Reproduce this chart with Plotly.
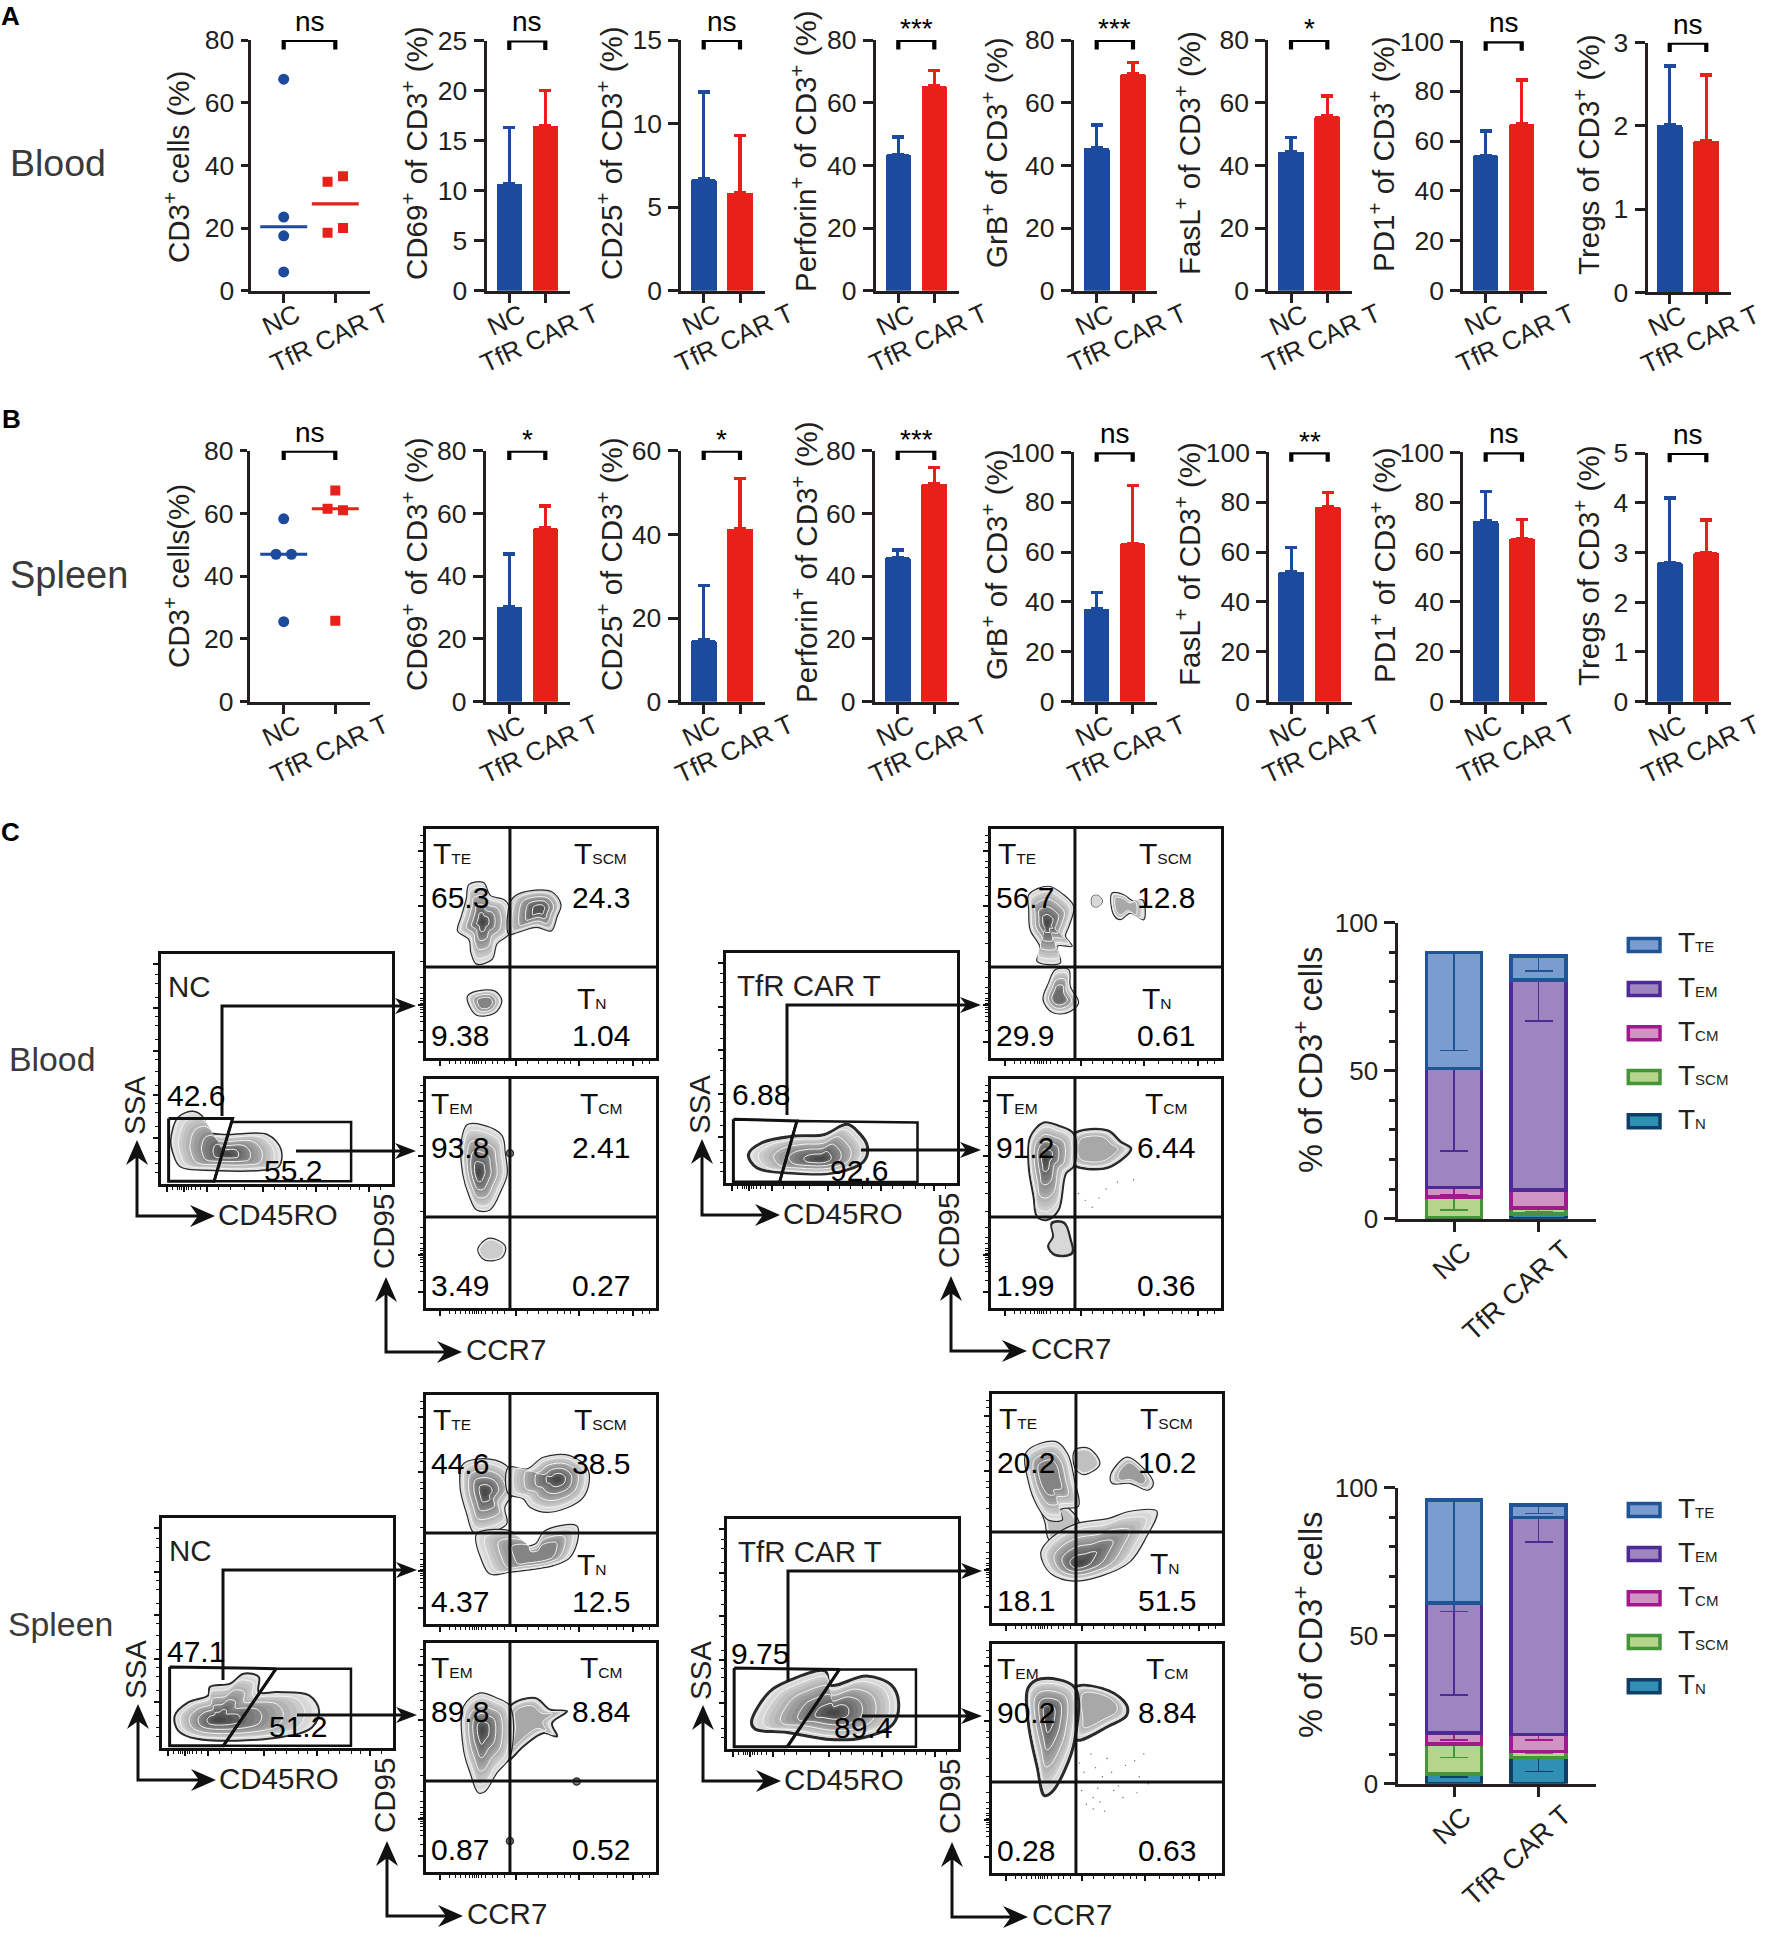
import plotly.graph_objects as go

W, H = 1765, 1938
FONT = "Liberation Sans"
INK = "#231f20"
BLUE = "#1c4a9c"
RED = "#e8201a"

CATEGORIES = ["NC", "TfR CAR T"]
SIG_A = ["ns", "ns", "ns", "***", "***", "*", "ns", "ns"]
SIG_B = ["ns", "*", "*", "***", "ns", "**", "ns", "ns"]
TITLES_A = ["CD3<sup>+</sup> cells (%)", "CD69<sup>+</sup> of CD3<sup>+</sup> (%)", "CD25<sup>+</sup> of CD3<sup>+</sup> (%)",
            "Perforin<sup>+</sup> of CD3<sup>+</sup> (%)", "GrB<sup>+</sup> of CD3<sup>+</sup> (%)",
            "FasL<sup>+</sup> of CD3<sup>+</sup> (%)", "PD1<sup>+</sup> of CD3<sup>+</sup> (%)", "Tregs of CD3<sup>+</sup> (%)"]
TITLES_B = ["CD3<sup>+</sup> cells(%)"] + TITLES_A[1:]
YMAX_A = [80, 25, 15, 80, 80, 80, 100, 3]
YMAX_B = [80, 80, 60, 80, 100, 100, 100, 5]
DTICK_A = [20, 5, 5, 20, 20, 20, 20, 1]
DTICK_B = [20, 20, 20, 20, 20, 20, 20, 1]

# CD3 scatter panels
A_NC_DOTS = [67.5, 23.5, 17.5, 6.0]
A_NC_DOTS_X = [0, 0, 0, 0]
A_NC_MEAN = 20.4
A_TFR_DOTS = [36.5, 34.8, 20.0, 18.5]
A_TFR_DOTS_X = [1.15, 0.85, 1.15, 0.85]
A_TFR_MEAN = 27.7
B_NC_DOTS = [58.3, 47.0, 47.0, 25.5]
B_NC_DOTS_X = [0, -0.15, 0.15, 0]
B_NC_MEAN = 47.0
B_TFR_DOTS = [67.3, 61.5, 61.0, 25.8]
B_TFR_DOTS_X = [1, 0.85, 1.15, 1]
B_TFR_MEAN = 61.5

# Bar panels 2..8
A_NC = [10.7, 6.67, 43.5, 45.6, 44.4, 54.3, 2.01]
A_NC_TOP = [16.33, 11.9, 49.1, 52.9, 48.9, 64.0, 2.72]
A_TFR = [16.47, 5.87, 65.3, 69.1, 55.7, 66.8, 1.82]
A_TFR_TOP = [20.0, 9.28, 70.2, 72.8, 62.2, 84.5, 2.61]
B_NC = [30.3, 14.7, 46.0, 37.2, 52.1, 72.5, 2.8]
B_NC_TOP = [47.0, 27.8, 48.4, 43.7, 61.8, 84.2, 4.1]
B_TFR = [55.3, 41.4, 69.4, 63.5, 78.2, 65.5, 3.0]
B_TFR_TOP = [62.4, 53.4, 74.6, 86.7, 83.8, 73.1, 3.65]

# Stacked panels, bottom to top
SUBSETS = ["N", "SCM", "CM", "EM", "TE"]
BLOOD_NC = [0.4, 7.0, 3.2, 40.2, 39.1]
BLOOD_NC_ERR = [0.2, 4.5, 2.4, 27.9, 33.0]
BLOOD_TFR = [1.6, 2.1, 6.0, 70.9, 8.1]
BLOOD_TFR_ERR = [0.5, 1.3, 0.0, 13.8, 5.0]
SPLEEN_NC = [3.3, 10.1, 3.8, 43.8, 34.8]
SPLEEN_NC_ERR = [1.0, 4.6, 2.5, 31.0, 37.6]
SPLEEN_TFR = [8.8, 2.1, 5.8, 73.3, 4.1]
SPLEEN_TFR_ERR = [4.6, 0.5, 2.0, 8.4, 2.9]
SUBSET_BORDER = ["#0f3f66", "#46943a", "#a2188f", "#4d2a95", "#1f5496"]
SUBSET_FILL = ["#2f8fb5", "#b5d68a", "#cf94c4", "#9d85bf", "#7a9ccf"]
LEGEND_ORDER = ["TE", "EM", "CM", "SCM", "N"]

# Layout in reference pixels
AX_X_A = [250.7, 486.7, 681.3, 876, 1074, 1268.3, 1463.3, 1647.7]
END_A = [370, 570, 765, 959.3, 1157.3, 1351.7, 1546.7, 1731]
T0_A = [283.7, 509.3, 703.7, 898.3, 1096.7, 1291, 1485.7, 1669.7]
T1_A = [335.3, 545.3, 740, 934.3, 1133, 1327.3, 1521.7, 1706.3]
TOP_A = [40, 40.5, 40, 40, 40, 40, 41.3, 42.7]
BOT_A = [290.7, 290.7, 290.7, 290.7, 290.7, 290.7, 290.7, 292.3]
AX_X_B = [250, 486, 680.7, 875, 1074, 1269.3, 1463.3, 1647.7]
END_B = [370, 570, 765, 959, 1157, 1352.3, 1546.7, 1731]
T0_B = [283.7, 509.3, 703.7, 897.7, 1096.7, 1291.3, 1485.7, 1669.7]
T1_B = [335.3, 545.3, 740, 934.3, 1132.7, 1327.7, 1522, 1706.3]
TOP_B = [450.7, 450.7, 450.7, 450.7, 452.3, 452.3, 452.3, 453]
BOT_B = [701.7] * 8
LABX = [176, 414, 609, 804, 994, 1187, 1382, 1587]
LABY_A = [167, 153, 153, 151, 153, 153, 154, 155]
LABY_B = [576, 564, 564, 562, 565, 564, 565, 566]

# Flow plot outlines, percent of each panel
BN_G = [(7.4,29),(14,31.6),(18.6,28.5),(19.8,23),(28,21.5),(46,21.5),(52,15),(51,7.5),(43,5.9),(23,5.9),(8.3,7.5),(5,13.9),(4.2,19)]
BN_T1 = [(18.7,75.8),(25,76.6),(28,71),(34.5,68.8),(37,63),(36,54),(31,50),(28.7,43),(22,41),(19.5,46),(18.7,51.6),(13.7,55.5),(15.3,61.7),(17.5,69.5)]
BN_T2 = [(37,68.8),(41,72),(54.5,72.7),(58.7,67),(57,61.7),(54.5,55.5),(48,57),(39.5,54.7),(36,54)]
BN_T3 = [(18,27),(22,29.2),(30,29.2),(33,25),(29.7,19.5),(22,18.7),(18.7,23)]
BN_B1 = [(17.8,80),(24.5,80),(33,75.4),(34.5,67.6),(35.3,58.3),(33,52),(27.8,42.8),(22,42.8),(18.7,49),(16,58.3),(15.3,72.3)]
BN_B2 = [(22.5,25.6),(27.5,30.5),(34.5,27),(33,22),(25.5,21)]
BT_G = [(9.7,12.4),(15.5,17.5),(29.3,20.4),(42.3,21),(52.5,25.5),(57.5,21.9),(61.2,16),(59.7,9.5),(46.7,4.4),(27.8,4.4),(13.3,6.6)]
BT_T1 = [(16.4,71.3),(25,75),(31.6,71.3),(36,66.2),(33.9,57.5),(32.4,53.2),(35.3,48.8),(28.8,48.8),(30.2,41.5),(20,42.2),(21.4,48),(17,56),(16.4,64.8)]
BT_T2 = [(28,38.6),(33.8,38.6),(34.5,31.3),(38.1,24),(33,19.7),(26.5,20),(22.6,25.5),(25,32.8)]
BT_T3 = [(52.6,72),(57.7,71.3),(62,68.4),(66,69),(66.4,60.4),(60.6,63.3),(56.2,60.4),(53.3,62.6)]
BT_T4 = [(44,70.5),(46.5,71),(48.5,68.5),(46.5,66),(44,66.5)]
BT_B1 = [(17,74.6),(22.9,81),(29.4,79.6),(36,76),(36,62),(32.6,58.7),(29.4,42.8),(24.3,38.4),(20,39.9),(18.5,48.6),(16.4,61.6)]
BT_B2 = [(36,76),(50.7,77.5),(56.5,72.5),(60.9,69.6),(56.5,64.5),(49.3,60.9),(36,62.4),(34,68)]
BT_B3 = [(26.5,37),(31.6,37.2),(34.5,29.7),(35.2,24),(28,23.2),(25,26.8),(27.2,31.2)]
SN_G = [(5.5,14),(11.3,19.8),(20,22.9),(20.7,26.5),(29.5,28),(35.3,32.3),(41.9,30.9),(41.9,24.3),(49.9,24.3),(63.7,22.9),(68,16.3),(65,9),(51.3,4.7),(15,4),(7,7.6)]
SN_T1 = [(16.2,69.9),(27.8,72),(35.8,68.4),(39.4,59.7),(34.3,51),(35.1,43.7),(24.9,39.3),(20.6,40),(17.7,48),(14.8,59.7)]
SN_T2 = [(35.8,68.4),(43.8,67.7),(51,72.8),(62.6,73.5),(70.6,67),(68.4,55.3),(53.9,48.8),(45.2,51),(42.3,54.6),(35.8,56.9)]
SN_T3 = [(22,39.3),(38,40),(40.1,34.2),(47.4,34.9),(51.7,40.7),(65.5,42.9),(66.2,37.8),(62.6,29),(55.4,25.5),(36.5,22.6),(27.8,21.8),(24.2,27.7)]
SN_B1 = [(16.3,72.3),(23.5,78.2),(30.8,76),(36.6,72.3),(36.6,50.5),(30.8,43.2),(25.7,35.2),(22.8,34.5),(19.2,43.2),(16.3,53.4)]
SN_B2 = [(36.6,72.3),(47.5,76),(54,70.9),(61.3,70.2),(54.8,65),(57,59.2),(51.2,60.7),(42.4,54.9),(35.2,48.3),(36.6,60.7)]
ST_G = [(10.6,11.8),(18.3,24.8),(26.1,29.4),(42.5,33.9),(44.8,27.8),(60.3,31.7),(71.2,27.8),(74.3,20.2),(72,11),(58.8,4.9),(44.8,4.1),(26.1,7.2),(12.1,8.7)]
ST_T1 = [(15,74.7),(27.5,79.3),(32.9,73.9),(36,61.7),(37.6,51),(29.8,49.5),(30.6,45),(24.4,45),(19.7,51),(15.8,61.7)]
ST_T2 = [(36,75.5),(42.2,76.2),(46.9,69.4),(39.9,64.8),(36,67.8)]
ST_T3 = [(51.6,64.8),(58.6,72.4),(64.8,68.6),(70.2,61),(67.9,58),(60,61),(52.2,61)]
ST_T4 = [(21.3,31.3),(25.9,37.3),(36.8,43.4),(50.8,45.7),(60,48.8),(71.7,48.8),(67,37.3),(60,26.7),(47.7,20.6),(35.2,18.3),(25.9,21.3),(22,26.7)]
ST_T5 = [(21,52),(30,52),(37,46),(38,40),(30,36),(25,36),(23,44)]
ST_B1 = [(15.8,81),(21.3,84.8),(36,81),(36,58.2),(31.4,44.4),(26,35.3),(22.8,33.8),(19.7,46),(15.8,65.8)]
ST_B2 = [(36,81),(50.8,79.5),(58.5,73.4),(58.5,68.8),(50.8,64.2),(36.8,58.1),(36,64.2)]
ST_DOTS_X = [38,40,42,45,48,50,52,55,58,62,64,66,68,46,44,39,41,44,47,49,37,43,53,57,63]
ST_DOTS_Y = [48,44,40,46,42,50,44,38,47,49,42,52,39,37,33,36,30,28,31,27,41,52,36,33,35]
GB_DOTS_X = [38,41,44,47,55,62,50,46]
GB_DOTS_Y = [50,47,44,48,55,56,52,40]

FLOW_X_MAJOR = [6, 39, 66.7, 90]
FLOW_X_MINOR = [10, 13, 15, 17, 19, 20, 21, 22, 23, 24, 26, 29, 31, 34, 44, 49, 53, 57, 60, 63, 73, 79, 83, 86, 94, 97]
FLOW_Y_MAJOR = [7, 23, 66.5, 90.6]
FLOW_Y_MINOR = [12, 16, 18, 20, 21, 22, 24, 25, 26, 28, 31, 35, 42, 50, 55, 59, 62, 71, 75, 79, 83, 86, 94, 97]
GATE_X_MAJOR = [2.5, 10, 20, 44, 67, 90]
GATE_X_MINOR = [5, 7, 8, 9, 11, 12, 13, 15, 17, 25, 30, 36, 49, 54, 59, 63, 72, 77, 82, 86, 95]
GATE_Y_MAJOR = [19.9, 38.8, 58, 76.5, 95.5]
GATE_Y_MINOR = [5, 9, 14, 25, 31, 35, 43, 49, 54, 63, 69, 73, 81, 87, 91]

fig_traces, annots, shapes, layout_axes = [], [], [], {}
axis_count = [0]


def fx(x):
    return x / W


def fy(y):
    return 1 - y / H


def add_axes(x0, x1, ytop, ybot, xr, yr, xopts, yopts):
    axis_count[0] += 1
    n = axis_count[0]
    suffix = "" if n == 1 else str(n)
    xa = dict(domain=[fx(x0), fx(x1)], range=xr, anchor="y" + suffix, showgrid=False, zeroline=False,
              showticklabels=False, fixedrange=True)
    ya = dict(domain=[fy(ybot), fy(ytop)], range=yr, anchor="x" + suffix, showgrid=False, zeroline=False,
              fixedrange=True)
    xa.update(xopts)
    ya.update(yopts)
    layout_axes["xaxis" + suffix] = xa
    layout_axes["yaxis" + suffix] = ya
    return "x" + suffix, "y" + suffix


def text(x, y, s, size, xref="paper", yref="paper", color=INK, angle=0, xanchor="center", yanchor="middle", weight=None):
    font = dict(family=FONT, size=size, color=color)
    if weight:
        font["weight"] = weight
    annots.append(dict(x=x, y=y, xref=xref, yref=yref, text=s, showarrow=False, font=font, textangle=angle,
                       xanchor=xanchor, yanchor=yanchor, borderpad=0, borderwidth=0))


def ptext(x, y, s, size, **kw):
    text(fx(x), fy(y), s, size, **kw)


def stat_panel(i, sig, title, labx, laby, ax, end, t0, t1, top, bot, ymax, dtick):
    d = t1 - t0
    xr = [(ax - t0) / d, (end - t0) / d]
    line = dict(showline=True, linecolor=INK, linewidth=3.2, ticks="outside", tickwidth=3.2, tickcolor=INK)
    xa, ya = add_axes(ax, end, top, bot, xr, [0, ymax],
                      dict(tickvals=[0, 1], ticklen=9, **line),
                      dict(tickmode="linear", tick0=0, dtick=dtick, ticklen=7 if i == 0 else 10, ticklabelstandoff=1,
                           showticklabels=True, tickfont=dict(family=FONT, size=26.5, color=INK), **line))
    b = ymax * 0.0375
    fig_traces.append(go.Scatter(x=[0, 0, 1, 1], y=[ymax - b, ymax, ymax, ymax - b], xaxis=xa, yaxis=ya, mode="lines",
                                 line=dict(color="#000000", width=4.2), cliponaxis=False, showlegend=False,
                                 hoverinfo="skip"))
    offset = 18.5 if sig == "ns" else 11
    text(0.5, fy(top - offset), sig, 28, xref=xa, color="#000000")
    text(fx(labx), fy(laby), title, 29.5, angle=-90)
    for k, cat in enumerate(CATEGORIES):
        dx, dy = (-3, 29) if k == 0 else (-6, 47)
        tk = t0 if k == 0 else t1
        text(fx(tk + dx), fy(bot + dy), cat, 26, angle=-25)
    return xa, ya


def dots(xa, ya, xs, ys, mean, cx, color, symbol, size):
    fig_traces.append(go.Scatter(x=xs, y=ys, xaxis=xa, yaxis=ya, mode="markers",
                                 marker=dict(color=color, size=size, symbol=symbol), showlegend=False))
    fig_traces.append(go.Scatter(x=[cx - 0.455, cx + 0.455], y=[mean, mean], xaxis=xa, yaxis=ya, mode="lines",
                                 line=dict(color=color, width=3.2), showlegend=False))


def bars(xa, ya, x, val, top, color, name):
    fig_traces.append(go.Bar(x=[x], y=[val], xaxis=xa, yaxis=ya, width=0.71, name=name, showlegend=False,
                             marker=dict(color=color, line=dict(width=0), cornerradius=2),
                             error_y=dict(type="data", symmetric=False, array=[top - val], arrayminus=[0],
                                          color=color, thickness=3.5, width=6)))


def row(sigs, titles, laby, axx, ends, t0s, t1s, tops, bots, ymaxs, dticks, ncs, nct, tfs, tft, d_nc, d_ncx, m_nc, d_tf, d_tfx, m_tf):
    for i in range(8):
        xa, ya = stat_panel(i, sigs[i], titles[i], LABX[i], laby[i], axx[i], ends[i], t0s[i], t1s[i], tops[i], bots[i],
                            ymaxs[i], dticks[i])
        if i == 0:
            dots(xa, ya, d_ncx, d_nc, m_nc, 0, BLUE, "circle", 11)
            dots(xa, ya, d_tfx, d_tf, m_tf, 1, RED, "square", 10)
        else:
            bars(xa, ya, 0, ncs[i - 1], nct[i - 1], BLUE, CATEGORIES[0])
            bars(xa, ya, 1, tfs[i - 1], tft[i - 1], RED, CATEGORIES[1])


row(SIG_A, TITLES_A, LABY_A, AX_X_A, END_A, T0_A, T1_A, TOP_A, BOT_A, YMAX_A, DTICK_A, A_NC, A_NC_TOP, A_TFR, A_TFR_TOP,
    A_NC_DOTS, A_NC_DOTS_X, A_NC_MEAN, A_TFR_DOTS, A_TFR_DOTS_X, A_TFR_MEAN)
row(SIG_B, TITLES_B, LABY_B, AX_X_B, END_B, T0_B, T1_B, TOP_B, BOT_B, YMAX_B, DTICK_B, B_NC, B_NC_TOP, B_TFR, B_TFR_TOP,
    B_NC_DOTS, B_NC_DOTS_X, B_NC_MEAN, B_TFR_DOTS, B_TFR_DOTS_X, B_TFR_MEAN)

ptext(10, 16, "A", 26, color="#000000", weight="bold")
ptext(11, 419, "B", 26, color="#000000", weight="bold")
ptext(10, 832, "C", 26, color="#000000", weight="bold")
ptext(58, 163, "Blood", 37.5, color="#3a3a3a")
ptext(69, 575, "Spleen", 38, color="#3a3a3a")
ptext(52, 1059, "Blood", 33.8, color="#3a3a3a")
ptext(61, 1624, "Spleen", 33.8, color="#3a3a3a")

# Stacked panels
STACK_AX, STACK_END, STACK_T0, STACK_T1 = 1398.3, 1596, 1454, 1538.7
SW_X0, SW_X1 = 1628.3, 1660
SW_Y = [945, 989, 1033.3, 1077, 1121.3]


def stacked(dy, nc, nc_err, tf, tf_err):
    top, bot = 922.7 + dy, 1218.7 + dy
    d = STACK_T1 - STACK_T0
    line = dict(showline=True, linecolor=INK, linewidth=3, ticks="outside", tickwidth=3, tickcolor=INK)
    xa, ya = add_axes(STACK_AX, STACK_END, top, bot, [(STACK_AX - STACK_T0) / d, (STACK_END - STACK_T0) / d], [0, 100],
                      dict(tickvals=[0, 1], ticklen=10, **line),
                      dict(tickvals=[0, 50, 100], ticklen=11, ticklabelstandoff=1, showticklabels=True,
                           tickfont=dict(family=FONT, size=26, color=INK),
                           minor=dict(dtick=10, tick0=0, ticks="outside", ticklen=6, tickwidth=2.5, tickcolor=INK), **line))
    for k, sub in enumerate(SUBSETS):
        fig_traces.append(go.Bar(x=[0, 1], y=[nc[k], tf[k]], xaxis=xa, yaxis=ya, width=0.65, name="T" + sub, showlegend=False,
                                 marker=dict(color=SUBSET_FILL[k], line=dict(color=SUBSET_BORDER[k], width=3.5)),
                                 error_y=dict(type="data", symmetric=False, array=[0, 0], arrayminus=[nc_err[k], tf_err[k]],
                                              color=SUBSET_BORDER[k], thickness=1.5, width=14)))
    text(fx(1308), fy(1060 + dy), "% of CD3<sup>+</sup> cells", 32.5, angle=-90)
    text(fx(STACK_T0 - 2), fy(bot + 42), CATEGORIES[0], 27.5, angle=-42)
    text(fx(STACK_T1 - 22), fy(bot + 72), CATEGORIES[1], 27.5, angle=-42)
    for k, sub in enumerate(LEGEND_ORDER):
        idx = SUBSETS.index(sub)
        y = SW_Y[k] + dy
        shapes.append(dict(type="rect", xref="paper", yref="paper", x0=fx(SW_X0), x1=fx(SW_X1), y0=fy(y - 6.5), y1=fy(y + 6.5),
                           fillcolor=SUBSET_FILL[idx], line=dict(color=SUBSET_BORDER[idx], width=3.5), layer="above"))
        text(fx(1678), fy(y - 2), 'T<span style="font-size:15px">%s</span>' % sub, 28, xanchor="left")


stacked(0, BLOOD_NC, BLOOD_NC_ERR, BLOOD_TFR, BLOOD_TFR_ERR)
stacked(565, SPLEEN_NC, SPLEEN_NC_ERR, SPLEEN_TFR, SPLEEN_TFR_ERR)

# Flow panels
RING_T = [1.0, 0.93, 0.86, 0.79, 0.72, 0.65, 0.58, 0.51, 0.44, 0.37, 0.3, 0.23, 0.16, 0.09]
RING_F = ["#e4e4e4", "#d8d8d8", "#cccccc", "#c0c0c0", "#b4b4b4", "#a8a8a8", "#9c9c9c", "#909090", "#848484", "#787878",
          "#6c6c6c", "#606060", "#545454", "#484848"]
RING_LINE = [2, 5, 8, 11]


def blob(xa, ya, pts, center, rings=14, edge=1.2, start=0):
    cx, cy = center
    for k in range(rings):
        t = RING_T[k]
        xs = [cx + t * (p[0] - cx) for p in pts] + [cx + t * (pts[0][0] - cx)]
        ys = [cy + t * (p[1] - cy) for p in pts] + [cy + t * (pts[0][1] - cy)]
        if k == 0:
            ln = dict(color="#2a2a2a", width=edge, shape="spline", smoothing=1)
        elif k in RING_LINE:
            ln = dict(color="#f4f4f4", width=1, shape="spline", smoothing=1)
        else:
            ln = dict(width=0, shape="spline", smoothing=1)
        fig_traces.append(go.Scatter(x=xs, y=ys, xaxis=xa, yaxis=ya, mode="lines", fill="toself",
                                     fillcolor=RING_F[min(k + start, 13)], showlegend=False, hoverinfo="skip", line=ln))


def flow_axes(x0, x1, y0, y1, xmaj, xmin, ymaj, ymin):
    common = dict(showline=True, mirror=True, linecolor="#111111", linewidth=3, ticks="outside", ticklen=5, tickwidth=1.5,
                  tickcolor="#111111")
    return add_axes(x0, x1, y0, y1, [0, 100], [0, 100],
                    dict(tickvals=xmaj, minor=dict(tickvals=xmin, ticks="outside", ticklen=3, tickwidth=1, tickcolor="#111111"), **common),
                    dict(tickvals=ymaj, showticklabels=False,
                         minor=dict(tickvals=ymin, ticks="outside", ticklen=3, tickwidth=1, tickcolor="#111111"), **common))


def poly(xa, ya, pts, width=2.5):
    xs = [p[0] for p in pts] + [pts[0][0]]
    ys = [p[1] for p in pts] + [pts[0][1]]
    fig_traces.append(go.Scatter(x=xs, y=ys, xaxis=xa, yaxis=ya, mode="lines", line=dict(color="#111111", width=width),
                                 showlegend=False, hoverinfo="skip"))


def arrow(hx, hy, ux, uy, length=25, half=11, notch=17):
    # solid, notched arrow head with its tip at (hx, hy), pointing along (ux, uy)
    px, py = -uy, ux
    pts = [(hx, hy), (hx - ux * length + px * half, hy - uy * length + py * half), (hx - ux * notch, hy - uy * notch),
           (hx - ux * length - px * half, hy - uy * length - py * half)]
    path = "M " + " L ".join("%.6f %.6f" % (fx(x), fy(y)) for x, y in pts) + " Z"
    shapes.append(dict(type="path", xref="paper", yref="paper", path=path, fillcolor="#111111", line=dict(width=0), layer="above"))


def polyline(points, width=3):
    path = "M " + " L ".join("%.6f %.6f" % (fx(x), fy(y)) for x, y in points)
    shapes.append(dict(type="path", xref="paper", yref="paper", path=path, line=dict(color="#111111", width=width), layer="above"))


QUAD_LABELS_X = [14.6, 76]
QUAD_LABELS_Y = [70, 9.8]


def quad(x0, y0, names, nums, blobs, dots_xy=None, rings=None):
    x1 = x0 + 230
    y1 = y0 + 229
    xa, ya = flow_axes(x0, x1, y0, y1, FLOW_X_MAJOR, FLOW_X_MINOR, FLOW_Y_MAJOR, FLOW_Y_MINOR)
    for b in blobs:
        blob(xa, ya, *b)
    if dots_xy:
        fig_traces.append(go.Scatter(x=dots_xy[0], y=dots_xy[1], xaxis=xa, yaxis=ya, mode="markers",
                                     marker=dict(size=1.4, color="#666666"), showlegend=False, hoverinfo="skip"))
    if rings:
        fig_traces.append(go.Scatter(x=rings[0], y=rings[1], xaxis=xa, yaxis=ya, mode="markers",
                                     marker=dict(size=7, color="#888888", symbol="circle", line=dict(color="#333333", width=1.5)),
                                     showlegend=False, hoverinfo="skip"))
    fig_traces.append(go.Scatter(x=[36.5, 36.5], y=[0, 100], xaxis=xa, yaxis=ya, mode="lines", line=dict(color="#111111", width=3),
                                 showlegend=False, hoverinfo="skip"))
    fig_traces.append(go.Scatter(x=[0, 100], y=[39.7, 39.7], xaxis=xa, yaxis=ya, mode="lines", line=dict(color="#111111", width=3),
                                 showlegend=False, hoverinfo="skip"))
    small = '<span style="font-size:15.5px">%s</span>'
    text(11.5, 89.5, "T" + small % names[0], 30, xref=xa, yref=ya, color="#111111")
    text(76, 89.5, "T" + small % names[1], 30, xref=xa, yref=ya, color="#111111")
    if names[2]:
        text(72, 26, "T" + small % names[2], 30, xref=xa, yref=ya, color="#111111")
    if names[3]:
        text(75, 26, "T" + small % names[3], 30, xref=xa, yref=ya, color="#111111")
    text(QUAD_LABELS_X[0], QUAD_LABELS_Y[0], nums[0], 30, xref=xa, yref=ya, color="#000000")
    text(QUAD_LABELS_X[1], QUAD_LABELS_Y[0], nums[1], 30, xref=xa, yref=ya, color="#000000")
    text(QUAD_LABELS_X[0], QUAD_LABELS_Y[1], nums[2], 30, xref=xa, yref=ya, color="#000000")
    text(QUAD_LABELS_X[1], QUAD_LABELS_Y[1], nums[3], 30, xref=xa, yref=ya, color="#000000")


def gate(gx, gy, title, title_x, n1, n1_xy, n2, n2_xy, left, right, blob_pts, center, edge):
    xa, ya = flow_axes(gx, gx + 231, gy, gy + 230, GATE_X_MAJOR, GATE_X_MINOR, GATE_Y_MAJOR, GATE_Y_MINOR)
    blob(xa, ya, blob_pts, center, 14, edge)
    poly(xa, ya, left, 3)
    poly(xa, ya, right, 2.5)
    text(title_x, 86, title, 29.5, xref=xa, yref=ya)
    text(n1_xy[0], n1_xy[1], n1, 30, xref=xa, yref=ya, color="#000000")
    text(n2_xy[0], n2_xy[1], n2, 30, xref=xa, yref=ya, color="#000000")
    polyline([(gx + 61, gy + 162), (gx + 61, gy + 52), (gx + 240, gy + 52)])
    arrow(gx + 255, gy + 52, 1, 0, 21, 8, 15)
    polyline([(gx + 135, gy + 197), (gx + 240, gy + 197)])
    arrow(gx + 255, gy + 197, 1, 0, 21, 8, 15)
    # SSA / CD45RO axis arrows
    polyline([(gx - 24, gy + 200), (gx - 24, gy + 262), (gx + 40, gy + 262)])
    arrow(gx - 24, gy + 186, 0, -1)
    arrow(gx + 54, gy + 262, 1, 0)
    text(fx(gx - 27), fy(gy + 152), "SSA", 29.5, angle=-90)
    text(fx(gx + 117), fy(gy + 260), "CD45RO", 29.5)
    # CD95 / CCR7 axis arrows
    polyline([(gx + 225, gy + 340), (gx + 225, gy + 398), (gx + 290, gy + 398)])
    arrow(gx + 225, gy + 323, 0, -1)
    arrow(gx + 301, gy + 398, 1, 0)
    text(fx(gx + 222), fy(gy + 278), "CD95", 29.5, angle=-90)
    text(fx(gx + 345), fy(gy + 395), "CCR7", 29.5)


gate(161, 954, "NC", 12.5, "42.6", (15.2, 38.6), "55.2", (57.3, 5.9),
     [(3.3, 28.5), (31, 28.5), (23, 1.2), (3.3, 1.2)], [(30.6, 27), (82.3, 27), (82.3, 1.2), (23, 1.2)], BN_G, (28, 13), 1.5)
quad(426, 829, ("TE", "SCM", "N", None), ("65.3", "24.3", "9.38", "1.04"),
     [(BN_T1, (24.5, 59.4)), (BN_T2, (49.5, 65), 12, 1.2, 1), (BN_T3, (25.7, 24), 9)])
quad(426, 1079, ("EM", "CM", None, None), ("93.8", "2.41", "3.49", "0.27"),
     [(BN_B1, (22.8, 59)), (BN_B2, (28, 25), 3)], rings=([36.5], [67.6]))

gate(726, 953, "TfR CAR T", 35.8, "6.88", (15.2, 38.4), "92.6", (57.5, 5.4),
     [(3.2, 27.7), (30.7, 27), (23.2, 0.4), (3.2, 0.4)], [(30.7, 27), (82.9, 26.3), (82.9, 0.4), (23.2, 0.4)], BT_G, (40.9, 10.2), 3)
quad(991, 829, ("TE", "SCM", "N", None), ("56.7", "12.8", "29.9", "0.61"),
     [(BT_T1, (24.3, 59)), (BT_T2, (29.4, 26.2), 11), (BT_T3, (57, 66.5), 6), (BT_T4, (46.2, 68.4), 2, 0.8)])
quad(991, 1079, ("EM", "CM", None, None), ("91.2", "6.44", "1.99", "0.36"),
     [(BT_B2, (44.6, 69.6), 6, 2.5, 0), (BT_B1, (23.6, 66), 14, 2), (BT_B3, (30, 29.7), 2, 3)], dots_xy=(GB_DOTS_X, GB_DOTS_Y))

gate(162, 1518, "NC", 12.5, "47.1", (14.7, 41.8), "51.2", (59, 9.3),
     [(3.3, 35.2), (49.4, 34.5), (26.6, 1), (3.3, 1)], [(49.4, 34.5), (81.8, 34.5), (81.8, 1), (26.6, 1)], SN_G, (23.7, 12), 2)
quad(426, 1395, ("TE", "SCM", "N", None), ("44.6", "38.5", "4.37", "12.5"),
     [(SN_T1, (25.6, 57.5)), (SN_T2, (57.5, 63.3)), (SN_T3, (49.6, 29.8), 9)])
quad(426, 1643, ("EM", "CM", None, None), ("89.8", "8.84", "0.87", "0.52"),
     [(SN_B2, (43.2, 66.5), 6, 2), (SN_B1, (24.3, 62.2))], rings=([36.5, 65.5], [13.5, 39.5]))

gate(727, 1519, "TfR CAR T", 35.8, "9.75", (14.5, 41.6), "89.4", (58.8, 9.5),
     [(3.1, 35.2), (48.7, 34.6), (26.1, 1), (3.1, 1)], [(48.7, 34.6), (81.8, 34.6), (81.8, 1), (26.1, 1)], ST_G, (46.3, 15.6), 3)
quad(992, 1394, ("TE", "SCM", None, "N"), ("20.2", "10.2", "18.1", "51.5"),
     [(ST_T5, (29, 44), 4), (ST_T1, (24.4, 64.8), 9), (ST_T2, (40.7, 70), 4), (ST_T3, (60.9, 65.5), 7), (ST_T4, (37.6, 25.6))])
quad(992, 1644, ("EM", "CM", None, None), ("90.2", "8.84", "0.28", "0.63"),
     [(ST_B2, (46, 73.4), 6, 3, 0), (ST_B1, (24.4, 69.6), 14, 3)], dots_xy=(ST_DOTS_X, ST_DOTS_Y))

fig = go.Figure(data=fig_traces)
fig.update_layout(width=W, height=H, margin=dict(l=0, r=0, t=0, b=0, autoexpand=False), paper_bgcolor="white",
                  plot_bgcolor="rgba(0,0,0,0)", barmode="stack", showlegend=False, font=dict(family=FONT, color=INK),
                  annotations=annots, shapes=shapes, hovermode=False, **layout_axes)
fig.write_html("out.html", post_script="document.body.style.margin='0';", config=dict(displayModeBar=False))
